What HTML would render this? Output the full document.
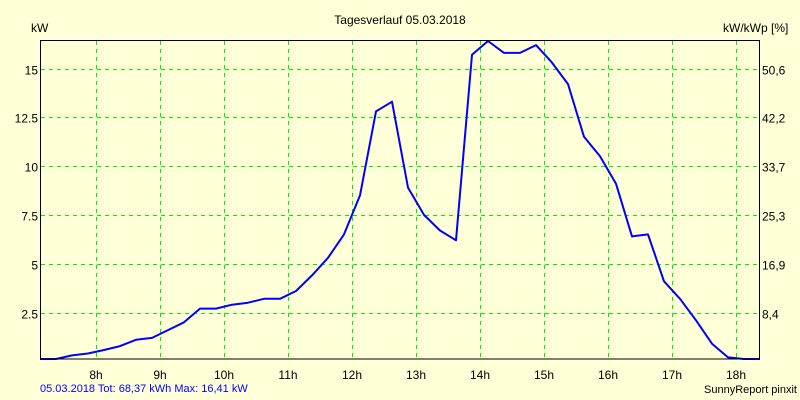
<!DOCTYPE html>
<html><head><meta charset="utf-8"><style>
body{margin:0;background:#ffffd8;}
svg{display:block;font-family:"Liberation Sans",sans-serif;font-size:12px;}
</style></head><body>
<svg id="chart" width="800" height="400">
<rect x="0" y="0" width="800" height="400" fill="#ffffd8"/>
<text x="400" y="24" text-anchor="middle" fill="#000">Tagesverlauf 05.03.2018</text>
<text x="31" y="32" fill="#000">kW</text>
<text x="723" y="32" fill="#000">kW/kWp [%]</text>
<g id="grid"></g>
<g id="series"></g>
<rect x="40.5" y="40.5" width="719" height="318.5" fill="none" stroke="#000" stroke-width="1"/>
<g id="labels"></g>
<text x="40" y="392" fill="#0000ff" font-size="11">05.03.2018 Tot: 68,37 kWh Max: 16,41 kW</text>
<text x="797" y="393" text-anchor="end" fill="#000" font-size="11">SunnyReport pinxit</text>
</svg>
<script>
const hours = [8,9,10,11,12,13,14,15,16,17,18];
const hourLabels = ["8h","9h","10h","11h","12h","13h","14h","15h","16h","17h","18h"];
const yTicks = [2.5,5,7.5,10,12.5,15];
const yTickLabels = ["2.5","5","7.5","10","12.5","15"];
const yRightLabels = ["8,4","16,9","25,3","33,7","42,2","50,6"];
const times = [7.125,7.375,7.625,7.875,8.125,8.375,8.625,8.875,9.125,9.375,9.625,9.875,10.125,10.375,10.625,10.875,11.125,11.375,11.625,11.875,12.125,12.375,12.625,12.875,13.125,13.375,13.625,13.875,14.125,14.375,14.625,14.875,15.125,15.375,15.625,15.875,16.125,16.375,16.625,16.875,17.125,17.375,17.625,17.875,18.125,18.375];
const power = [0,0.1,0.3,0.4,0.58,0.78,1.1,1.2,1.6,2.0,2.7,2.7,2.9,3.0,3.2,3.2,3.6,4.4,5.3,6.5,8.5,12.8,13.3,8.9,7.5,6.7,6.2,15.7,16.41,15.8,15.8,16.2,15.3,14.2,11.5,10.5,9.1,6.4,6.5,4.1,3.2,2.1,0.9,0.2,0,0];

const X = h => 40 + (h - 7.125) * 64;
const Y = v => Math.min(359, 361.3 - v * 19.52);
const NS = "http://www.w3.org/2000/svg";
const grid = document.getElementById('grid');
const labels = document.getElementById('labels');
const series = document.getElementById('series');
function mk(tag, attrs, parent){const e=document.createElementNS(NS,tag);for(const k in attrs)e.setAttribute(k,attrs[k]);parent.appendChild(e);return e;}

hours.forEach((h,i)=>{
  const x = Math.round(X(h))+0.5;
  const l = mk('line',{x1:x,y1:41,x2:x,y2:359,stroke:'#00ee00','stroke-dasharray':'4,4'},grid);
  
  
  const t = mk('text',{x:X(h),y:379,'text-anchor':'middle',fill:'#000'},labels);
  t.textContent = hourLabels[i];
  
  
});
yTicks.forEach((v,i)=>{
  const y = Math.round(Y(v))+0.5;
  const l = mk('line',{x1:41,y1:y,x2:759,y2:y,stroke:'#00ee00','stroke-dasharray':'4,4'},grid);
  
  
  const t = mk('text',{x:38,y:y+5,'text-anchor':'end',fill:'#000'},labels);
  t.textContent = yTickLabels[i];
  
  
  const r = mk('text',{x:762,y:y+5,fill:'#000'},labels);
  r.textContent = yRightLabels[i];
  
  
});
const pts = times.map((t,i)=>X(t).toFixed(1)+','+Y(power[i]).toFixed(1)).join(' ');
const line = mk('polyline',{points:pts,fill:'none',stroke:'#0000ff','stroke-width':2,'stroke-linejoin':'round'},series);


</script>
</body></html>
